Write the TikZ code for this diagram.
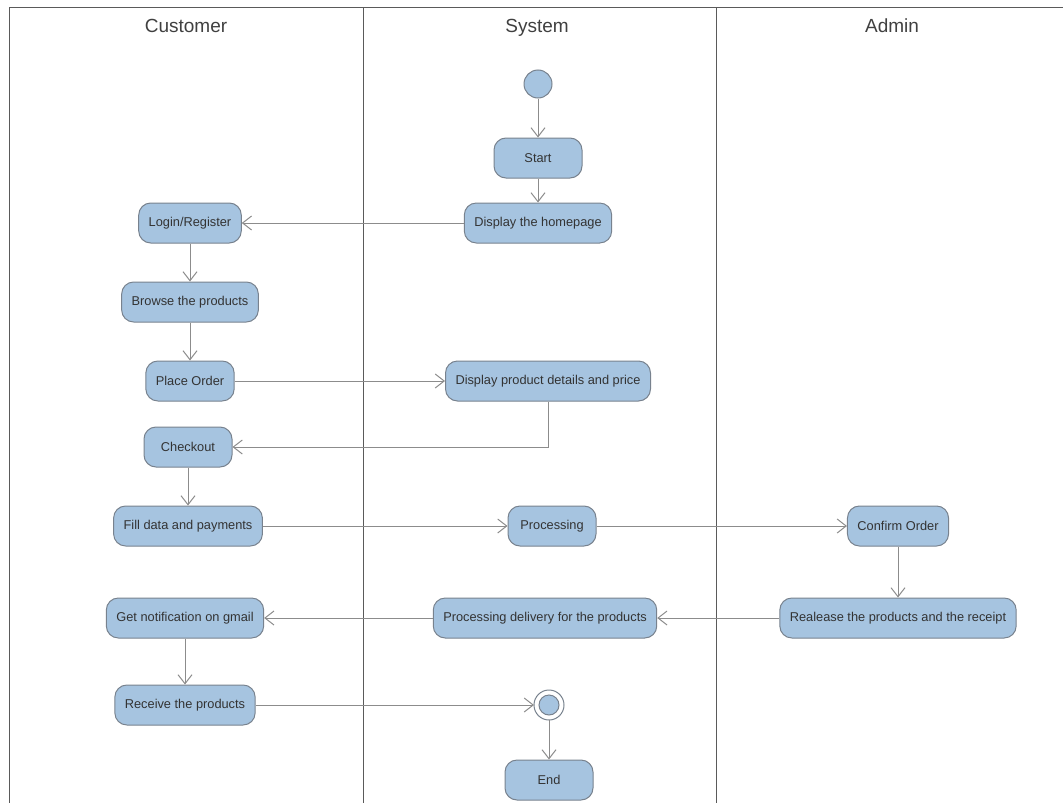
\documentclass[tikz,border=0pt]{standalone}
\usepackage{fontspec}
\setmainfont{Liberation Sans}
\usepackage{tikz}
\usetikzlibrary{arrows.meta}

\definecolor{actblue}{RGB}{166,196,224}
\definecolor{actborder}{RGB}{120,130,142}
\definecolor{flowgray}{RGB}{140,140,140}
\definecolor{lanegray}{RGB}{90,90,90}

\tikzset{
  act/.style={draw=actborder, line width=1pt, fill=actblue, rounded corners=12pt,
    minimum height=40pt, minimum width=88pt, inner xsep=10pt,
    font=\fontsize{12.8}{14}\selectfont, text=black!80},
  startnode/.style={draw=actborder, line width=1pt, fill=actblue, circle, minimum size=28pt, inner sep=0pt},
  endnode/.style={draw=actborder, line width=1pt, fill=actblue, circle, minimum size=20pt, inner sep=0pt},
  flow/.style={draw=flowgray, line width=1pt, -{Straight Barb[length=9pt,width=14pt]}},
  lane/.style={draw=lanegray, line width=1pt},
  lanetitle/.style={font=\fontsize{19}{21}\selectfont, text=black!75, anchor=base}
}

\begin{document}
\begin{tikzpicture}[x=1pt, y=-1pt]
    \useasboundingbox (0,0) rectangle (1063,803);

    % swimlanes
    \draw[lane] (9,803) -- (9,7) -- (1063,7);
    \draw[lane] (363,7) -- (363,803);
    \draw[lane] (716,7) -- (716,803);
    \node[lanetitle] (Cus) at (186,32) {Customer};
    \node[lanetitle] (Sys) at (537,32) {System};
    \node[lanetitle] (Adm) at (892,32) {Admin};

    % system lane
    \node[startnode] (Ini) at (538,84) {};
    \node[act] (Sta) at (538,158) {Start};
    \node[act] (Home) at (538,223) {Display the homepage};
    \node[act] (Det) at (548,381) {Display product details and price};
    \node[act] (Proc) at (552,526) {Processing};
    \node[act] (Del) at (545,618) {Processing delivery for the products};
    \node[endnode] (Fin) at (549,705) {};
    \draw[actborder, line width=1pt] (Fin.center) circle[radius=15pt];
    \node[act] (End) at (549,780) {End};

    % customer lane
    \node[act] (Log) at (190,223) {Login/Register};
    \node[act] (Brw) at (190,302) {Browse the products};
    \node[act] (Ord) at (190,381) {Place Order};
    \node[act] (Chk) at (188,447) {Checkout};
    \node[act] (Pay) at (188,526) {Fill data and payments};
    \node[act] (Ntf) at (185,618) {Get notification on gmail};
    \node[act] (Rcv) at (185,705) {Receive the products};

    % admin lane
    \node[act] (Cnf) at (898,526) {Confirm Order};
    \node[act] (Rel) at (898,618) {Realease the products and the receipt};

    \draw[flow] (Ini) -- (Sta);
    \draw[flow] (Sta) -- (Home);
    \draw[flow] (Home) -- (Log);
    \draw[flow] (Log) -- (Brw);
    \draw[flow] (Brw) -- (Ord);
    \draw[flow] (Ord) -- (Det);
    \draw[flow] (Det) |- (Chk);
    \draw[flow] (Chk) -- (Pay);
    \draw[flow] (Pay) -- (Proc);
    \draw[flow] (Proc) -- (Cnf);
    \draw[flow] (Cnf) -- (Rel);
    \draw[flow] (Rel) -- (Del);
    \draw[flow] (Del) -- (Ntf);
    \draw[flow] (Ntf) -- (Rcv);
    \draw[flow] (Rcv) -- ([xshift=-15pt]Fin.center);
    \draw[flow] ([yshift=-15pt]Fin.center) -- (End);
\end{tikzpicture}
\end{document}
